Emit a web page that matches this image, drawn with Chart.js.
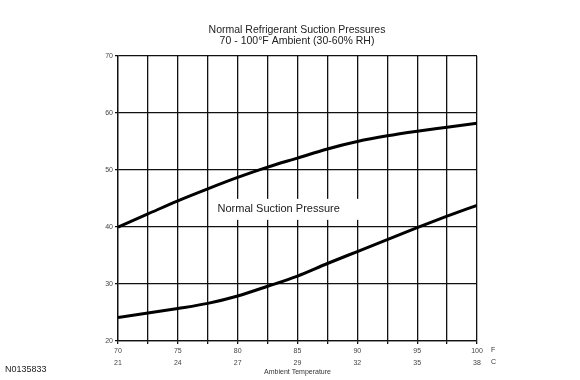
<!DOCTYPE html>
<html>
<head>
<meta charset="utf-8">
<script src="https://cdn.jsdelivr.net/npm/chart.js@4/dist/chart.umd.min.js"></script>
<style>
html,body{margin:0;padding:0;background:#fff;}
#wrap{width:580px;height:380px;position:relative;}
</style>
</head>
<body>
<div id="wrap"><canvas id="c" width="580" height="380"></canvas></div>
<script>
// Data
const tempsF = [70, 72.5, 75, 77.5, 80, 82.5, 85, 87.5, 90, 92.5, 95, 97.5, 100];
const upperPressure = [40, 42.3, 44.6, 46.7, 48.7, 50.5, 52.1, 53.7, 55.0, 56.0, 56.8, 57.5, 58.2];
const lowerPressure = [24.1, 24.9, 25.7, 26.6, 27.9, 29.6, 31.4, 33.6, 35.7, 37.8, 39.9, 41.9, 43.8];
const fLabels = [70, 75, 80, 85, 90, 95, 100];
const cLabels = ['21', '24', '27', '29', '32', '35', '38'];
const titleLines = ['Normal Refrigerant Suction Pressures', '70 - 100°F Ambient (30-60% RH)'];
const bandLabel = 'Normal Suction Pressure';
const xTitle = 'Ambient Temperature';
const figureId = 'N0135833';

const FONT = '"Liberation Sans", Arial, sans-serif';

const extras = {
  id: 'extras',
  afterDatasetsDraw(chart) {
    const ctx = chart.ctx;
    const x = chart.scales.x, y = chart.scales.y;
    ctx.save();
    // label box
    const bx = x.getPixelForValue(77.9), by = y.getPixelForValue(43.1);
    const bw = 150, bh = 21;
    ctx.fillStyle = '#fff';
    ctx.fillRect(bx, by - bh / 2, bw, bh);
    ctx.fillStyle = '#1a1a1a';
    ctx.font = '11px ' + FONT;
    ctx.textBaseline = 'middle';
    ctx.textAlign = 'left';
    ctx.fillText(bandLabel, bx + 5, by);
    ctx.restore();
  },
  afterDraw(chart) {
    const ctx = chart.ctx;
    const a = chart.chartArea;
    ctx.save();
    ctx.fillStyle = '#333';
    ctx.font = '7px ' + FONT;
    ctx.textBaseline = 'middle';
    ctx.textAlign = 'left';
    ctx.fillText('F', a.right + 14, a.bottom + 9);
    ctx.fillText('C', a.right + 14, a.bottom + 21);
    ctx.fillStyle = '#222';
    ctx.font = '9px ' + FONT;
    ctx.fillText(figureId, 5, 370);
    ctx.restore();
  }
};

new Chart(document.getElementById('c'), {
  type: 'line',
  data: {
    datasets: [
      { data: tempsF.map((t, i) => ({ x: t, y: upperPressure[i] })), borderColor: '#000', borderWidth: 3, pointRadius: 0, cubicInterpolationMode: 'monotone', fill: false, yAxisID: 'y' },
      { data: tempsF.map((t, i) => ({ x: t, y: lowerPressure[i] })), borderColor: '#000', borderWidth: 3, pointRadius: 0, cubicInterpolationMode: 'monotone', fill: false, yAxisID: 'y' }
    ]
  },
  options: {
    responsive: false,
    animation: false,
    layout: { padding: { left: 14, right: 0, top: 0, bottom: 0 } },
    plugins: {
      legend: { display: false },
      tooltip: { enabled: false },
      title: {
        display: true,
        text: titleLines,
        color: '#222',
        font: { family: FONT, size: 10.5, weight: 'normal', lineHeight: 1.05 },
        padding: { top: 25, bottom: 9 }
      }
    },
    scales: {
      x: {
        type: 'linear',
        min: 70, max: 100,
        afterFit(s) { s.height = 39; },
        ticks: {
          stepSize: 2.5,
          autoSkip: false,
          maxRotation: 0,
          color: '#444',
          font: { family: FONT, size: 7, lineHeight: 1.75 },
          padding: 1,
          callback(v) {
            const i = fLabels.indexOf(v);
            return i >= 0 ? [String(fLabels[i]), cLabels[i]] : '';
          }
        },
        grid: { color: '#111', lineWidth: 1.3, tickLength: 3, drawTicks: true },
        border: { color: '#111', width: 1.3 },
        title: { display: true, text: xTitle, color: '#333', font: { family: FONT, size: 7 }, padding: { top: 0, bottom: 4 } }
      },
      y: {
        min: 20, max: 70,
        afterFit(s) { s.width = 104; },
        ticks: { stepSize: 10, color: '#444', font: { family: FONT, size: 7 }, padding: 2 },
        grid: { color: '#111', lineWidth: 1.3, tickLength: 3 },
        border: { color: '#111', width: 1.3 }
      },
      yRight: {
        position: 'right',
        min: 20, max: 70,
        afterFit(s) { s.width = 103; },
        ticks: { display: false },
        grid: { display: false, drawTicks: false },
        border: { display: false }
      }
    }
  },
  plugins: [extras]
});
</script>
</body>
</html>
